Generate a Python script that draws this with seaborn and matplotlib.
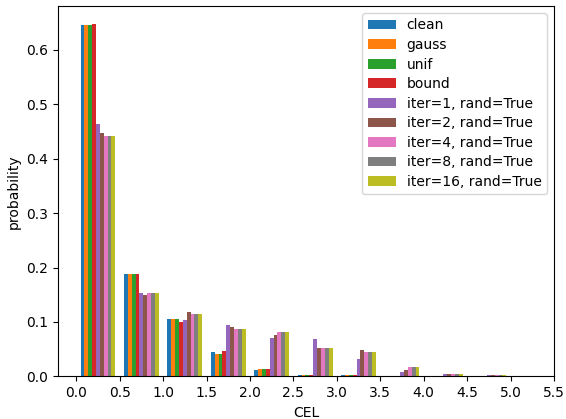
import numpy as np
import pandas as pd
import matplotlib
matplotlib.use("Agg")
import matplotlib.pyplot as plt
import seaborn as sns

# Bin edges / centers of CEL histogram
bin_edges = [0.0, 0.5, 1.0, 1.5, 2.0, 2.5, 3.0, 3.5, 4.0, 4.5, 5.0, 5.5]
bin_centers = [0.25, 0.75, 1.25, 1.75, 2.25, 2.75, 3.25, 3.75, 4.25, 4.75, 5.25]

series_names = ["clean", "gauss", "unif", "bound",
                "iter=1, rand=True", "iter=2, rand=True", "iter=4, rand=True",
                "iter=8, rand=True", "iter=16, rand=True"]

clean = [0.646, 0.188, 0.106, 0.045, 0.012, 0.002, 0.002, 0.0, 0.0, 0.0, 0.0]
gauss = [0.646, 0.188, 0.106, 0.041, 0.0136, 0.002, 0.002, 0.0, 0.0, 0.0, 0.0]
unif = [0.646, 0.188, 0.106, 0.041, 0.0136, 0.002, 0.002, 0.0, 0.0, 0.0, 0.0]
bound = [0.648, 0.188, 0.100, 0.047, 0.0136, 0.002, 0.002, 0.0, 0.0, 0.0, 0.0]
iter1 = [0.464, 0.153, 0.104, 0.094, 0.0706, 0.069, 0.032, 0.008, 0.004, 0.002, 0.0]
iter2 = [0.4475, 0.150, 0.118, 0.091, 0.076, 0.052, 0.0485, 0.012, 0.004, 0.002, 0.0]
iter4 = [0.442, 0.153, 0.115, 0.087, 0.0816, 0.052, 0.045, 0.017, 0.004, 0.002, 0.0]
iter8 = [0.442, 0.153, 0.115, 0.087, 0.0816, 0.052, 0.045, 0.017, 0.004, 0.002, 0.0]
iter16 = [0.442, 0.153, 0.115, 0.087, 0.0816, 0.052, 0.045, 0.017, 0.004, 0.002, 0.0]

values = [clean, gauss, unif, bound, iter1, iter2, iter4, iter8, iter16]

rows = []
for name, vals in zip(series_names, values):
    for c, v in zip(bin_centers, vals):
        rows.append({"CEL": c, "series": name, "prob": v})
df = pd.DataFrame(rows)

palette = sns.color_palette("tab10", len(series_names))

fig = plt.figure(figsize=(5.66, 4.19), dpi=100)
ax = fig.add_axes([0.1025, 0.1017, 0.9788 - 0.1025, 0.9857 - 0.1017])

sns.histplot(data=df, x="CEL", weights="prob", hue="series",
             hue_order=series_names, palette=palette, bins=bin_edges,
             multiple="dodge", shrink=0.8, stat="count", alpha=1.0,
             edgecolor="none", linewidth=0, ax=ax)

ax.set_xlim(-0.21, 5.5)
ax.set_xticks(np.arange(0, 5.51, 0.5))
ax.set_xlabel("CEL")
ax.set_ylabel("probability")
sns.move_legend(ax, "upper right", title=None, labelspacing=0.4)

fig.savefig("out.png", dpi=100)
